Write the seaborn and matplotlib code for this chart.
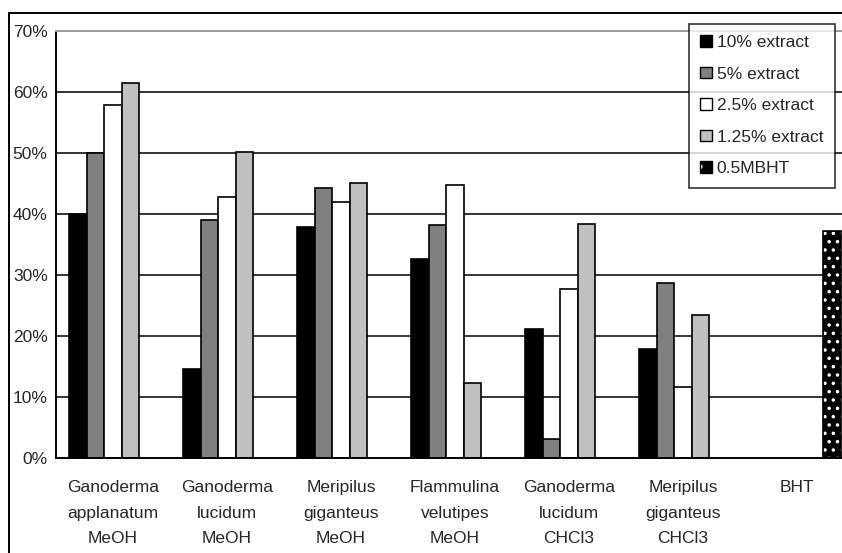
import numpy as np
import pandas as pd
import matplotlib
matplotlib.use("Agg")
import matplotlib.pyplot as plt
from matplotlib.patches import Patch, Rectangle
from matplotlib.lines import Line2D
from matplotlib.legend_handler import HandlerTuple
from matplotlib.ticker import FixedLocator, FuncFormatter
import seaborn as sns

# chart data (in %)
groups = ["Ganoderma\napplanatum\nMeOH", "Ganoderma\nlucidum\nMeOH", "Meripilus\ngiganteus\nMeOH",
          "Flammulina\nvelutipes\nMeOH", "Ganoderma\nlucidum\nCHCl3", "Meripilus\ngiganteus\nCHCl3", "BHT"]
series = ["10% extract", "5% extract", "2.5% extract", "1.25% extract", "0.5MBHT"]
ext_10 = [40.0, 14.5, 37.8, 32.6, 21.1, 17.8]
ext_5 = [50.0, 39.0, 44.3, 38.2, 3.0, 28.6]
ext_25 = [57.9, 42.7, 42.0, 44.7, 27.6, 11.5]
ext_125 = [61.4, 50.2, 45.0, 12.2, 38.4, 23.4]
bht = [37.2]
colors = ["#000000", "#808080", "#ffffff", "#c0c0c0", "#000000"]

# long table for seaborn
rows = []
for name, vals in zip(series[:4], [ext_10, ext_5, ext_25, ext_125]):
    for g, v in zip(groups[:6], vals):
        rows.append({"group": g, "series": name, "value": v})
rows.append({"group": groups[6], "series": series[4], "value": bht[0]})
df = pd.DataFrame(rows)

sns.set_style("white")
plt.rcParams["font.family"] = ["Liberation Sans", "DejaVu Sans"]
plt.rcParams["hatch.linewidth"] = 1.3
FS = 12.5

fig = plt.figure(figsize=(8.42, 5.53), dpi=100)
ax = fig.add_axes([56 / 842, 1 - 457.5 / 553, 798 / 842, 426.5 / 553])

sns.barplot(data=df, x="group", y="value", hue="series", order=groups, hue_order=series,
            palette=dict(zip(series, colors)), width=0.77, edgecolor="black", linewidth=1.2,
            saturation=1, legend=False, ax=ax, errorbar=None)

# dotted BHT bar: white dots on black, then a black outline on top
for bar in ax.containers[4]:
    bar.set_hatch("..")
    bar.set_edgecolor("white")
    bar.set_linewidth(0)
    ax.add_patch(Rectangle(bar.get_xy(), bar.get_width(), bar.get_height(),
                           facecolor="none", edgecolor="black", lw=1.2, zorder=bar.get_zorder() + 0.1))

ax.set_xlim(-0.5, 6.5)
ax.set_ylim(0, 70)
ax.set_axisbelow(True)
ax.yaxis.set_major_locator(FixedLocator(range(0, 71, 10)))
ax.yaxis.set_major_formatter(FuncFormatter(lambda v, p: f"{v:.0f}%"))
for y in range(10, 70, 10):
    ax.axhline(y, color="black", lw=1.1, zorder=0)

ax.set_xlabel("")
ax.set_ylabel("")
ax.tick_params(axis="x", which="major", length=0, pad=16, labelsize=FS)
ax.xaxis.set_minor_locator(FixedLocator(np.arange(0.5, 6.5, 1)))
ax.tick_params(axis="x", which="minor", direction="out", length=5, width=1.2, color="black")
ax.tick_params(axis="y", direction="inout", length=10, width=1.2, color="black", labelsize=FS, pad=1)
for lbl in ax.get_xticklabels():
    lbl.set_linespacing(1.9)

for side in ["left", "bottom"]:
    ax.spines[side].set_color("black")
    ax.spines[side].set_linewidth(1.4)
ax.spines["top"].set_color("#9a9a9a")
ax.spines["top"].set_linewidth(1.4)
ax.spines["right"].set_visible(False)

handles = [Patch(facecolor=c, edgecolor="black", linewidth=1) for c in colors[:4]]
handles.append((Patch(facecolor="black", edgecolor="white", hatch=".", linewidth=0),
                Patch(facecolor="none", edgecolor="black", linewidth=1)))
leg = fig.legend(handles, series, loc="upper left", bbox_to_anchor=(689 / 842, 1 - 24 / 553),
                 bbox_transform=fig.transFigure, borderaxespad=0, frameon=True, fancybox=False,
                 fontsize=FS, handlelength=0.65, handleheight=0.65, handletextpad=0.3,
                 labelspacing=0.95, borderpad=0.65,
                 handler_map={tuple: HandlerTuple(ndivide=1, pad=0)})
leg.get_frame().set_edgecolor("black")
leg.get_frame().set_linewidth(1.2)

# outer chart border
fig.add_artist(Line2D([8.5 / 842, 8.5 / 842], [0, 1 - 12.5 / 553], color="black", lw=1.4))
fig.add_artist(Line2D([8.5 / 842, 1], [1 - 12.5 / 553, 1 - 12.5 / 553], color="black", lw=1.4))

fig.savefig("out.png", dpi=100)
